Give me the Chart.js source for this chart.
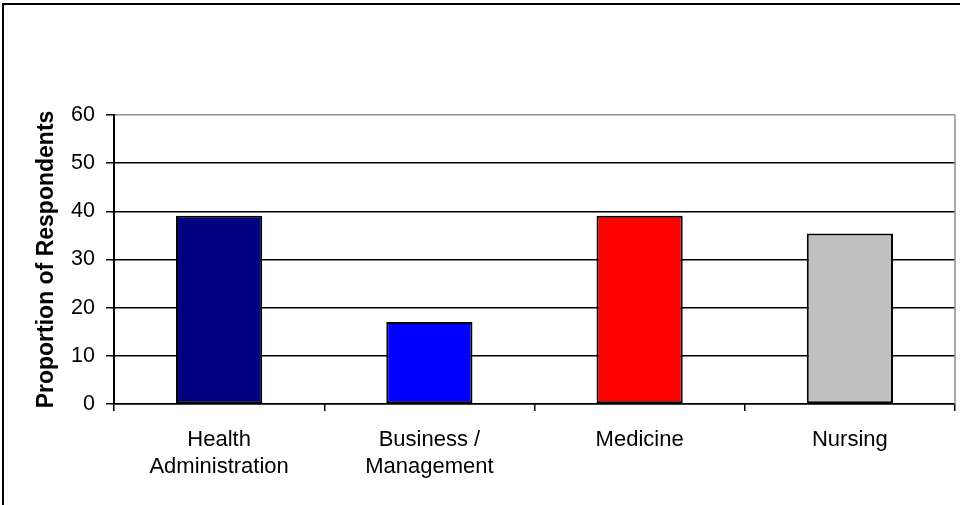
<!DOCTYPE html>
<html>
<head>
<meta charset="utf-8">
<script src="https://cdn.jsdelivr.net/npm/chart.js@4/dist/chart.umd.min.js"></script>
<style>
  html, body { margin: 0; padding: 0; background: #ffffff; }
  #wrap { width: 960px; height: 505px; }
</style>
</head>
<body>
<div id="wrap"><canvas id="chart" width="960" height="505"></canvas></div>
<script>
// Respondent groups and their share (%)
const categories = [["Health", "Administration"], ["Business /", "Management"], "Medicine", "Nursing"];
const proportions = [39.1, 17.0, 39.1, 35.4];
const barColors = ["#000080", "#0000FF", "#FF0000", "#C0C0C0"];
const yTicks = [0, 10, 20, 30, 40, 50, 60];

const FONT = "'Liberation Sans', Arial, sans-serif";

// Outer frame plus the grey plot-area border on the right edge
const framePlugin = {
  id: 'frame',
  beforeDraw(chart) {
    const ctx = chart.ctx;
    ctx.save();
    ctx.fillStyle = '#ffffff';
    ctx.fillRect(0, 0, chart.width, chart.height);
    ctx.strokeStyle = '#000000';
    ctx.lineWidth = 2;
    ctx.beginPath();
    ctx.moveTo(3, chart.height);
    ctx.lineTo(3, 4);
    ctx.lineTo(chart.width, 4);
    ctx.stroke();
    ctx.restore();
  },
  afterDatasetsDraw(chart) {
    const a = chart.chartArea;
    const ctx = chart.ctx;
    ctx.save();
    ctx.strokeStyle = '#909090';
    ctx.lineWidth = 1.5;
    ctx.beginPath();
    ctx.moveTo(a.right, a.top);
    ctx.lineTo(a.right, a.bottom);
    ctx.stroke();
    ctx.restore();
  }
};

new Chart(document.getElementById('chart'), {
  type: 'bar',
  data: {
    labels: categories,
    datasets: [{
      data: proportions,
      backgroundColor: barColors,
      borderColor: '#000000',
      borderWidth: 2,
      borderSkipped: false,
      barPercentage: 0.41,
      categoryPercentage: 1.0
    }]
  },
  options: {
    responsive: false,
    animation: false,
    devicePixelRatio: 1,
    layout: { padding: { top: 115, right: 5, left: 0, bottom: 0 } },
    plugins: {
      legend: { display: false },
      tooltip: { enabled: false }
    },
    scales: {
      x: {
        grid: {
          offset: true,
          drawOnChartArea: false,
          drawTicks: true,
          tickLength: 7,
          color: '#000000',
          lineWidth: 1.5
        },
        border: { display: true, color: '#000000', width: 1.5 },
        ticks: {
          color: '#000000',
          font: { family: FONT, size: 22, lineHeight: 1.22 },
          padding: 16,
          maxRotation: 0,
          autoSkip: false
        },
        afterFit(scale) { scale.height = 101; }
      },
      y: {
        min: 0,
        max: 60,
        afterBuildTicks(scale) { scale.ticks = yTicks.map(v => ({ value: v })); },
        grid: {
          color: ctx => (ctx.tick && ctx.tick.value === 60) ? '#909090' : '#000000',
          lineWidth: 1.5,
          drawTicks: true,
          tickLength: 8,
          tickColor: '#000000'
        },
        border: { display: true, color: '#000000', width: 2 },
        ticks: {
          color: '#000000',
          font: { family: FONT, size: 21.5 },
          padding: 11
        },
        title: {
          display: true,
          text: 'Proportion of Respondents',
          color: '#000000',
          font: { family: FONT, size: 23, weight: 'bold', lineHeight: 1.2 },
          padding: { top: 33, bottom: 0 }
        },
        afterFit(scale) { scale.width = 114; }
      }
    }
  },
  plugins: [framePlugin]
});
</script>
</body>
</html>
